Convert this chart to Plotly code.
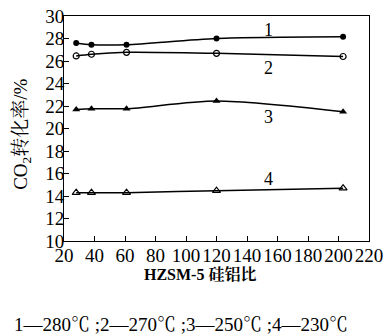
import plotly.graph_objects as go

x_ratio = [28, 38, 61, 120, 203]
s1 = [27.6, 27.45, 27.45, 28.0, 28.15]
s2 = [26.45, 26.6, 26.77, 26.68, 26.4]
s3 = [21.7, 21.76, 21.76, 22.45, 21.5]
s4 = [14.3, 14.3, 14.3, 14.47, 14.7]
series_labels = ["1", "2", "3", "4"]
label_x = [154, 154, 154, 154]
label_y = [28.76, 25.38, 21.02, 15.51]
x_ticks = list(range(20, 221, 20))
y_ticks = list(range(10, 31, 2))

FONT = "'Liberation Serif', 'Times New Roman', 'Noto Serif CJK SC', 'Noto Sans CJK SC', serif"

fig = go.Figure()
markers = [
    dict(symbol="circle", size=6, color="black"),
    dict(symbol="circle-open", size=6, color="black", line=dict(width=1.2)),
    dict(symbol="triangle-up", size=7, color="black"),
    dict(symbol="triangle-up-open", size=7, color="black", line=dict(width=1.2)),
]
for ys, m in zip([s1, s2, s3, s4], markers):
    fig.add_trace(go.Scatter(
        x=x_ratio, y=ys, mode="lines+markers",
        line=dict(color="black", width=1.5, shape="spline", smoothing=0.8),
        marker=m, showlegend=False,
    ))

annotations = []
for lab, lx, ly in zip(series_labels, label_x, label_y):
    annotations.append(dict(x=lx, y=ly, xref="x", yref="y", text=lab,
                            showarrow=False, font=dict(family=FONT, size=18, color="black")))
annotations.append(dict(x=-0.138, y=0.476, xref="paper", yref="paper",
                        text="CO<sub>2</sub>转化率/%", textangle=-90, showarrow=False,
                        xanchor="center", yanchor="middle",
                        font=dict(family=FONT, size=19, color="black")))
annotations.append(dict(x=0.446, y=-0.15, xref="paper", yref="paper",
                        text="<b>HZSM-5 硅铝比</b>", showarrow=False,
                        xanchor="center", yanchor="middle",
                        font=dict(family=FONT, size=16, color="black")))
annotations.append(dict(x=0.383, y=-0.373, xref="paper", yref="paper",
                        text="1—280℃ ;2—270℃ ;3—250℃ ;4—230℃", showarrow=False,
                        xanchor="center", yanchor="middle",
                        font=dict(family=FONT, size=19, color="black")))

fig.update_layout(
    width=388, height=336,
    margin=dict(l=64, r=19, t=16, b=95, autoexpand=False),
    paper_bgcolor="white", plot_bgcolor="white",
    font=dict(family=FONT, size=19, color="black"),
    annotations=annotations,
    xaxis=dict(range=[20, 220], tickvals=x_ticks, ticks="inside", ticklen=5,
               tickcolor="black", showline=True, linecolor="black", linewidth=1,
               mirror=True, showgrid=False, zeroline=False, automargin=False,
               tickangle=0, ticklabeloverflow="allow", ticklabelstandoff=-3,
               tickfont=dict(family=FONT, size=19)),
    yaxis=dict(range=[10, 30], tickvals=y_ticks, ticks="inside", ticklen=5,
               tickcolor="black", showline=True, linecolor="black", linewidth=1,
               mirror=True, showgrid=False, zeroline=False, automargin=False,
               ticklabeloverflow="allow", ticklabelstandoff=-5,
               tickfont=dict(family=FONT, size=19)),
)
fig.write_html("out.html", config={"displayModeBar": False},
               post_script="document.body.style.margin='0px';")
